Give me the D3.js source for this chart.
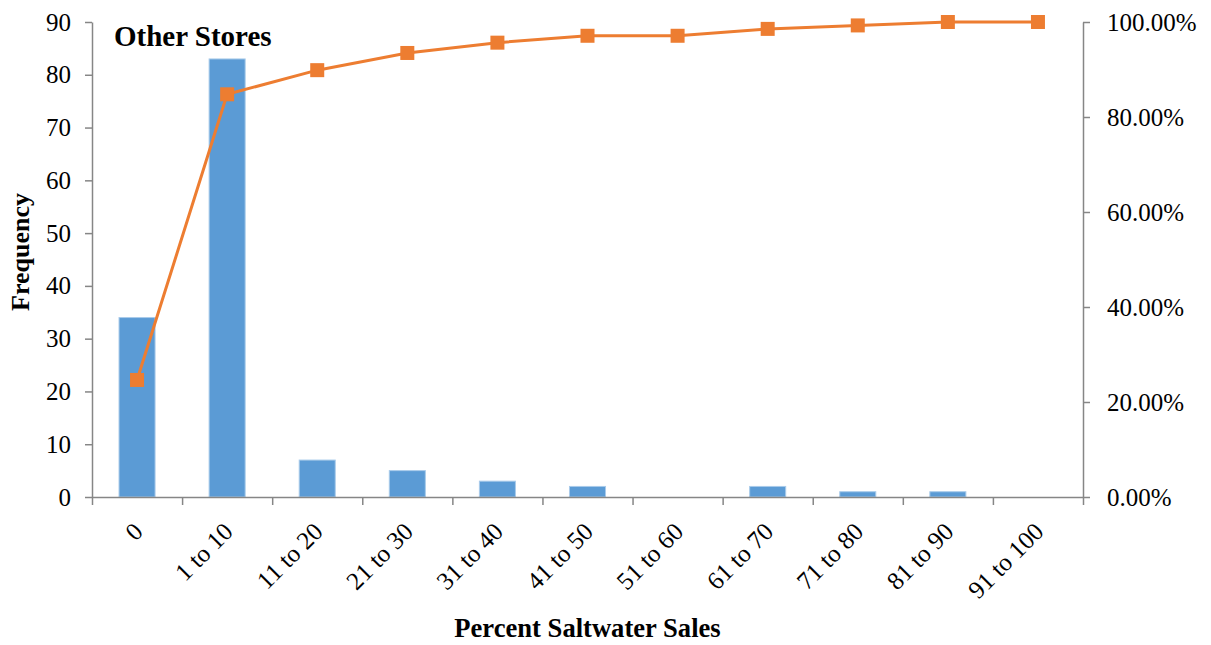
<!DOCTYPE html>
<html>
<head>
<meta charset="utf-8">
<script src="https://cdn.jsdelivr.net/npm/d3@7"></script>
<style>
  html, body { margin: 0; padding: 0; background: #fff; }
  svg { display: block; }
  text { font-family: "Liberation Serif", "Times New Roman", serif; fill: #000; }
</style>
</head>
<body>
<svg id="chart" width="1211" height="645"></svg>
<script>
// Histogram bins of saltwater sales share
const categories = ["0", "1 to 10", "11 to 20", "21 to 30", "31 to 40", "41 to 50",
                    "51 to 60", "61 to 70", "71 to 80", "81 to 90", "91 to 100"];
// Store counts per bin
const frequency = [34, 83, 7, 5, 3, 2, 0, 2, 1, 1, 0];
// Cumulative share of stores (%)
const cumulativePct = [24.64, 84.78, 89.86, 93.48, 95.65, 97.10, 97.10, 98.55, 99.28, 100, 100];
const leftTicks = [0, 10, 20, 30, 40, 50, 60, 70, 80, 90];
const rightTicks = [0, 20, 40, 60, 80, 100];

const svg = d3.select("#chart");
const m = { left: 92, right: 1083, top: 22, bottom: 497 };

const x = d3.scaleBand().domain(categories).range([m.left, m.right]).paddingInner(0.6).paddingOuter(0.3);
const xb = d3.scaleLinear().domain([0, categories.length]).range([m.left, m.right]);
const yL = d3.scaleLinear().domain([0, 90]).range([m.bottom, m.top]);
const yR = d3.scaleLinear().domain([0, 100]).range([m.bottom, m.top]);

const axisColor = "#868686";
const blue = "#5B9BD5";
const orange = "#ED7D31";

// Bars
svg.append("g").selectAll("rect").data(frequency).join("rect")
  .attr("x", (d, i) => x(categories[i]))
  .attr("width", x.bandwidth())
  .attr("y", d => yL(d))
  .attr("height", d => yL(0) - yL(d))
  .attr("fill", blue)
  .attr("stroke", d => d > 0 ? "#A9CBEA" : "none")
  .attr("stroke-width", 1);

// Left axis
const gL = svg.append("g").attr("transform", `translate(${m.left},0)`)
  .call(d3.axisLeft(yL).tickValues(leftTicks).tickSize(7).tickSizeOuter(0).tickPadding(14));
// Right axis
const gR = svg.append("g").attr("transform", `translate(${m.right},0)`)
  .call(d3.axisRight(yR).tickValues(rightTicks).tickSize(7).tickSizeOuter(0).tickPadding(17)
    .tickFormat(d => d.toFixed(2) + "%"));
// Bottom axis: ticks at bin boundaries
const gB = svg.append("g").attr("transform", `translate(0,${m.bottom})`)
  .call(d3.axisBottom(xb).tickValues(d3.range(categories.length + 1)).tickSize(8).tickSizeOuter(0).tickFormat(""));

[gL, gR, gB].forEach(g => {
  g.selectAll(".domain").attr("stroke", axisColor).attr("stroke-width", 1.5);
  g.selectAll(".tick line").attr("stroke", axisColor).attr("stroke-width", 1.5);
  g.selectAll("text").style("font-family", "'Liberation Serif', serif").style("font-size", "25px").attr("fill", "#000");
});

// Rotated category labels
svg.append("g").selectAll("text").data(categories).join("text")
  .attr("transform", d => `translate(${x(d) + x.bandwidth() / 2 + 1},${m.bottom + 30}) rotate(-45)`)
  .attr("text-anchor", "end")
  .attr("dy", "0.35em")
  .style("font-size", "25px")
  .text(d => d);

// Cumulative line with square markers
const cx = (d, i) => x(categories[i]) + x.bandwidth() / 2;
svg.append("path").datum(cumulativePct)
  .attr("fill", "none").attr("stroke", orange).attr("stroke-width", 3)
  .attr("d", d3.line().x(cx).y(d => yR(d)));
svg.append("g").selectAll("rect").data(cumulativePct).join("rect")
  .attr("x", (d, i) => cx(d, i) - 7).attr("y", d => yR(d) - 7)
  .attr("width", 14).attr("height", 14)
  .attr("fill", orange);

// Titles
svg.append("text").attr("x", 114).attr("y", 46)
  .style("font-size", "29px").style("font-weight", "bold").text("Other Stores");
svg.append("text").attr("x", (m.left + m.right) / 2).attr("y", 637)
  .attr("text-anchor", "middle").style("font-size", "26.6px").style("font-weight", "bold")
  .text("Percent Saltwater Sales");
svg.append("text").attr("transform", "translate(29,252) rotate(-90)")
  .attr("text-anchor", "middle").style("font-size", "26px").style("font-weight", "bold")
  .text("Frequency");
</script>
</body>
</html>
